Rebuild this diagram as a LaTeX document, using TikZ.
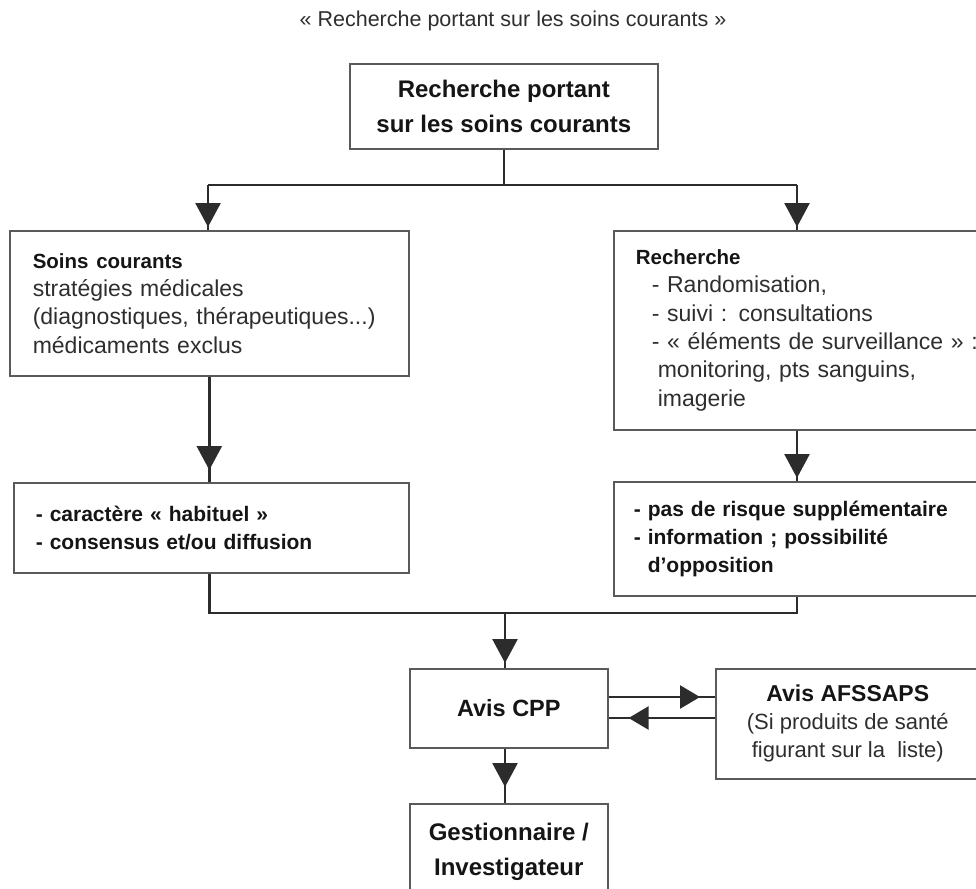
\documentclass[tikz,border=0pt]{standalone}
\usepackage{fontspec}
\setmainfont{Liberation Sans}
\usetikzlibrary{arrows.meta}
\definecolor{txt}{HTML}{2E2E2E}
\definecolor{btxt}{HTML}{151515}
\definecolor{edgecol}{HTML}{5A5A5A}
\definecolor{conncol}{HTML}{2C2C2C}
\begin{document}
\begin{tikzpicture}[x=1pt,y=-1pt,
  box/.style={draw=edgecol, line width=1.6pt, rectangle, inner ysep=0pt, text=txt},
  lbox/.style={box, anchor=north west, align=left},
  cbox/.style={box, anchor=north west, align=center, inner xsep=0pt},
  conn/.style={draw=conncol, line width=2.6pt},
  arr/.style={conn, -{Triangle[length=24pt,width=25pt]}},
  harr/.style={conn, -{Triangle[length=20pt,width=23pt]}},
  reg/.style={font=\fontsize{23}{28.4}\selectfont},
  big/.style={font=\fontsize{24}{35}\selectfont\bfseries, text=btxt},
  bld/.style={font=\fontsize{21}{28}\selectfont\bfseries, text=btxt}]
\useasboundingbox (0,0) rectangle (976,888);
\clip (0,0) rectangle (976,888);

\node[text=txt] (title) at (513,21) {\fontsize{21.5}{24}\selectfont « Recherche portant sur les soins courants »};

\node[cbox, big, minimum width=308pt, minimum height=85pt] (top) at (349,63)
  {Recherche portant\\sur les soins courants};

\node[lbox, reg, inner xsep=23pt, text width=353pt, minimum height=145pt] (sc) at (9,230)
  {{\fontsize{20.5}{28.4}\selectfont\bfseries\color{btxt}Soins courants}\\
   stratégies médicales\\
   (diagnostiques, thérapeutiques...)\\
   médicaments exclus};

\node[lbox, reg, inner xsep=22pt, text width=360pt, minimum height=199pt] (rech) at (613,230)
  {{\fontsize{20.5}{28.4}\selectfont\bfseries\color{btxt}Recherche}\\
   \hspace*{16pt}- Randomisation,\\
   \hspace*{16pt}- suivi : consultations\\
   \hspace*{16pt}- « éléments de surveillance » :\\
   \hspace*{22pt}monitoring, pts sanguins,\\
   \hspace*{22pt}imagerie};

\node[lbox, bld, inner xsep=22pt, text width=351pt, minimum height=90pt] (hab) at (13,482)
  {- caractère « habituel »\\
   - consensus et/ou diffusion};

\node[lbox, bld, inner xsep=20pt, text width=360pt, minimum height=114pt] (risk) at (613,481)
  {- pas de risque supplémentaire\\
   - information ; possibilité\\
   \hphantom{-\ }d'opposition};

\node[cbox, font=\fontsize{23.5}{30}\selectfont\bfseries, text=btxt, minimum width=198pt, minimum height=79pt] (cpp) at (409,668)
  {Avis CPP};

\node[cbox, reg, minimum width=264pt, minimum height=110pt] (afs) at (715,668)
  {{\fontsize{23}{30}\selectfont\bfseries\color{btxt}Avis AFSSAPS}\\[-1pt]
   \fontsize{22}{29}\selectfont(Si produits de santé\\
   \fontsize{22}{29}\selectfont figurant sur la\ \ liste)};

\node[cbox, big, minimum width=198pt, minimum height=97pt] (gest) at (409,803)
  {Gestionnaire /\\Investigateur};

% connectors
\coordinate (hl) at (208,185);
\coordinate (hr) at (797,185);
\coordinate (bj) at (505,613);
\coordinate (ha) at (0,697);
\coordinate (hb) at (0,718);

\draw[conn] (top.south) -- (top.south |- hl);
\draw[conn] (hl) -- (hr);
\draw[conn] (hl) -- (hl |- sc.north);
\draw[arr, shorten >=3pt] (hl) -- (hl |- sc.north);
\draw[conn] (hr) -- (hr |- rech.north);
\draw[arr, shorten >=3pt] (hr) -- (hr |- rech.north);

\draw[conn] (sc.south) -- (sc.south |- hab.north);
\draw[arr, shorten >=12pt] (sc.south) -- (sc.south |- hab.north);
\draw[conn] (hr |- rech.south) -- (hr |- risk.north);
\draw[arr, shorten >=3pt] (hr |- rech.south) -- (hr |- risk.north);

\draw[conn] (sc.south |- hab.south) -- (sc.south |- bj) -- (hr |- bj) -- (hr |- risk.south);
\draw[conn] (bj) -- (bj |- cpp.north);
\draw[arr, shorten >=5pt] (bj) -- (bj |- cpp.north);

\draw[conn] (cpp.east |- ha) -- (afs.west |- ha);
\draw[harr, shorten >=15pt] (cpp.east |- ha) -- (afs.west |- ha);
\draw[conn] (afs.west |- hb) -- (cpp.east |- hb);
\draw[harr, shorten >=20pt] (afs.west |- hb) -- (cpp.east |- hb);

\draw[conn] (bj |- cpp.south) -- (bj |- gest.north);
\draw[arr, shorten >=16pt] (bj |- cpp.south) -- (bj |- gest.north);
\end{tikzpicture}
\end{document}
